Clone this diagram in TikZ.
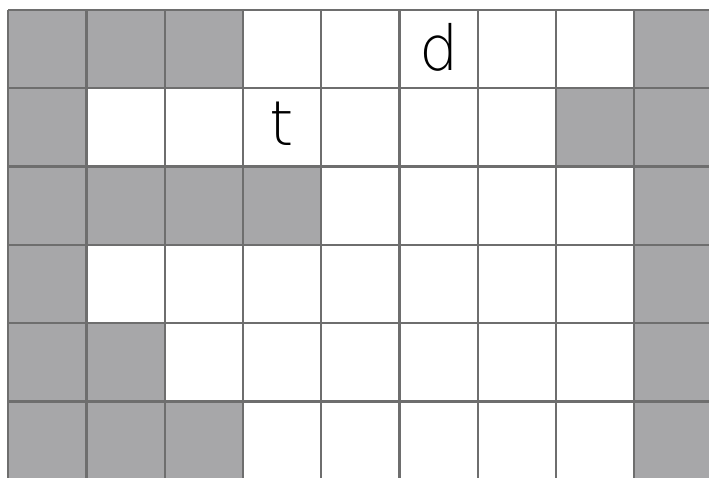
\documentclass[tikz,border=0pt]{standalone}
\usepackage{fontspec}
\newfontfamily\hand{DejaVu Sans ExtraLight}
\definecolor{cellgray}{HTML}{A7A7A9}
\definecolor{gridline}{HTML}{6E6E6E}
\begin{document}
\begin{tikzpicture}[x=1pt,y=-1pt,
  cell/.style={fill=cellgray,draw=none},
  letter/.style={font=\hand\fontsize{62}{62}\selectfont,anchor=base,inner sep=0pt,text=black}]
\useasboundingbox (0,0) rectangle (709,478);
\fill[white] (0,0) rectangle (709,478);
\def\cw{78.25}
\def\rh{78.3}
\def\ox{8.3}
\def\oy{10}
\begin{scope}
\clip (0,0) rectangle (709,478);
\foreach \c/\r in {1/1,2/1,3/1,9/1, 1/2,8/2,9/2, 1/3,2/3,3/3,4/3,9/3, 1/4,9/4, 1/5,2/5,9/5, 1/6,2/6,3/6,9/6}{
  \fill[cellgray] ({\ox+(\c-1)*\cw},{\oy+(\r-1)*\rh}) rectangle ({\ox+\c*\cw},{\oy+\r*\rh});
}
\foreach \i in {0,...,9}{
  \draw[gridline,line width=2.3pt] ({\ox+\i*\cw},\oy) -- ({\ox+\i*\cw},{\oy+6*\rh});
}
\foreach \j in {0,...,6}{
  \draw[gridline,line width=2.3pt] (\ox,{\oy+\j*\rh}) -- ({\ox+9*\cw},{\oy+\j*\rh});
}
\end{scope}
\node[letter] (d) at (438.7,71) {d};
\node[letter] (t) at (282,146) {t};
\end{tikzpicture}
\end{document}
